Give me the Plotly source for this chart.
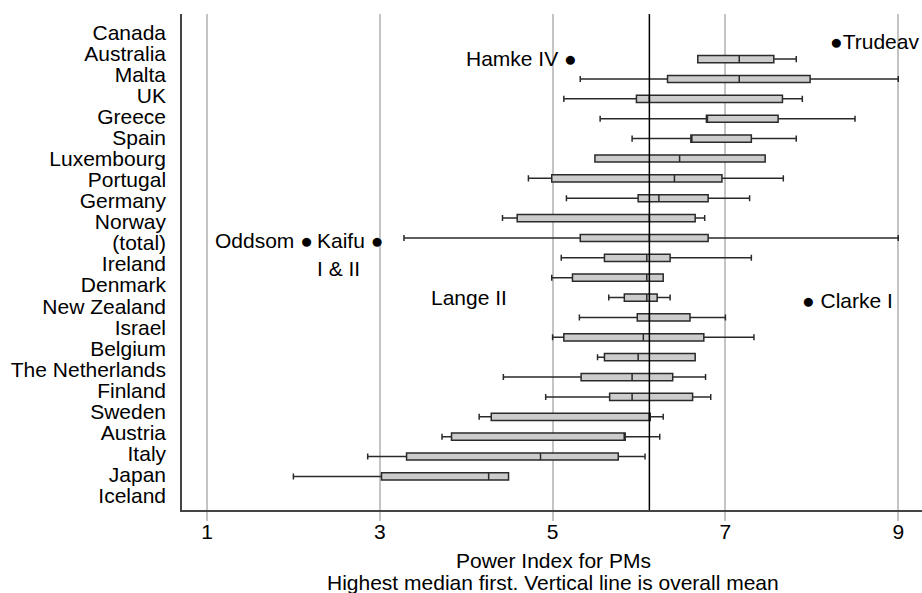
import plotly.graph_objects as go

# ---------------- data ----------------
labels = ["Canada", "Australia", "Malta", "UK", "Greece", "Spain", "Luxembourg",
          "Portugal", "Germany", "Norway", "(total)", "Ireland", "Denmark",
          "New Zealand", "Israel", "Belgium", "The Netherlands", "Finland",
          "Sweden", "Austria", "Italy", "Japan", "Iceland"]

box_names = ["Australia", "Malta", "UK", "Greece", "Spain", "Luxembourg",
             "Portugal", "Germany", "Norway", "(total)", "Ireland", "Denmark",
             "New Zealand", "Israel", "Belgium", "The Netherlands", "Finland",
             "Sweden", "Austria", "Italy", "Japan", "Iceland"]
lower_whisker = [6.68, 5.32, 5.13, 5.55, 5.92, 5.49, 4.72, 5.16, 4.42, 3.28, 5.10,
                 4.99, 5.65, 5.31, 5.00, 5.52, 4.43, 4.92, 4.15, 3.72, 2.86, 2.00]
q1_values = [6.68, 6.33, 5.97, 6.78, 6.60, 5.49, 4.99, 5.99, 4.59, 5.32, 5.60,
             5.23, 5.83, 5.98, 5.13, 5.60, 5.33, 5.66, 4.29, 3.83, 3.31, 3.02]
median_values = [7.16, 7.16, 6.12, 6.78, 6.60, 6.47, 6.41, 6.23, 6.12, 6.12, 6.09,
                 6.09, 6.09, 6.12, 6.05, 5.99, 5.92, 5.92, 6.13, 5.84, 4.86, 4.26]
q3_values = [7.56, 7.98, 7.66, 7.61, 7.30, 7.46, 6.96, 6.80, 6.65, 6.80, 6.36,
             6.28, 6.21, 6.59, 6.75, 6.65, 6.39, 6.62, 6.13, 5.84, 5.76, 4.49]
upper_whisker = [7.82, 9.00, 7.89, 8.50, 7.82, 7.46, 7.67, 7.28, 6.76, 9.00, 7.30,
                 6.28, 6.36, 7.00, 7.33, 6.65, 6.77, 6.83, 6.28, 6.24, 6.07, 4.49]
overall_mean = 6.12
x_ticks = [1, 3, 5, 7, 9]

# ---------------- layout helpers ----------------
W, H = 922, 593
ML, MR, MT, MB = 182, 0, 14, 83
PW, PH = W - ML - MR, H - MT - MB
FONT = "Liberation Sans, Arial, sans-serif"
FS = 21


def px(x):
    return (x - ML) / PW


def py(y):
    return (H - MB - y) / PH


fig = go.Figure()
# invisible carrier so the label axis is drawn with its categories
fig.add_trace(go.Scatter(
    x=[None] * len(labels), y=labels, mode="markers", xaxis="x", yaxis="y",
    showlegend=False, hoverinfo="skip",
))
fig.add_trace(go.Box(
    y=box_names, q1=q1_values, median=median_values, q3=q3_values,
    lowerfence=lower_whisker, upperfence=upper_whisker,
    orientation="h", yaxis="y2", xaxis="x",
    fillcolor="#cccccc", line=dict(color="#2a2a2a", width=1.5),
    width=0.36, whiskerwidth=0.85, boxpoints=False,
    showlegend=False, hoverinfo="skip",
))

fig.add_shape(type="line", xref="x", yref="paper", x0=overall_mean, x1=overall_mean,
              y0=0, y1=1, line=dict(color="black", width=1.5), layer="above")

ann_font = dict(family=FONT, size=FS, color="black")
annotations = [
    dict(text="●Trudeav", x=px(828), y=py(41), xanchor="left"),
    dict(text="Hamke IV ●", x=px(579), y=py(59), xanchor="right"),
    dict(text="Oddsom ●", x=px(213), y=py(240), xanchor="left"),
    dict(text="Kaifu ●", x=px(315), y=py(240), xanchor="left"),
    dict(text="I & II", x=px(315), y=py(268), xanchor="left"),
    dict(text="Lange II", x=px(429), y=py(298), xanchor="left"),
    dict(text="● Clarke I", x=px(800), y=py(300), xanchor="left"),
    dict(text="Power Index for PMs", x=px(553), y=py(560), xanchor="center"),
    dict(text="Highest median first. Vertical line is overall mean", x=px(553), y=py(582),
         xanchor="center"),
]
for a in annotations:
    a.update(xref="paper", yref="paper", yanchor="middle", showarrow=False, font=ann_font)

fig.update_layout(
    width=W, height=H,
    margin=dict(l=ML, r=MR, t=MT, b=MB, pad=0),
    paper_bgcolor="white", plot_bgcolor="white",
    font=dict(family=FONT, size=FS, color="black"),
    showlegend=False,
    annotations=annotations,
    xaxis=dict(
        range=[0.711, 9.275], tickvals=x_ticks, showgrid=True,
        gridcolor="#c4c4c4", gridwidth=1.5, zeroline=False,
        ticks="outside", ticklen=9, tickwidth=1.5, tickcolor="#c4c4c4",
        showline=True, linecolor="#444444", linewidth=2, ticklabelstandoff=-7,
        tickfont=dict(family=FONT, size=FS, color="black"),
    ),
    yaxis=dict(
        type="category", categoryorder="array", categoryarray=labels,
        tickmode="array", tickvals=labels, ticktext=labels,
        range=[22.68, -0.875],
        showgrid=False, zeroline=False, ticks="", showline=True,
        linecolor="#444444", linewidth=1.5, ticklabelstandoff=10,
        tickfont=dict(family=FONT, size=FS, color="black"),
    ),
    yaxis2=dict(
        overlaying="y", type="category", categoryorder="array",
        categoryarray=box_names, range=[22.69, -2.27], visible=False,
    ),
)

fig.write_html("out.html", config={"displayModeBar": False},
               post_script="document.body.style.margin='0';"
                           "document.body.style.padding='0';")
